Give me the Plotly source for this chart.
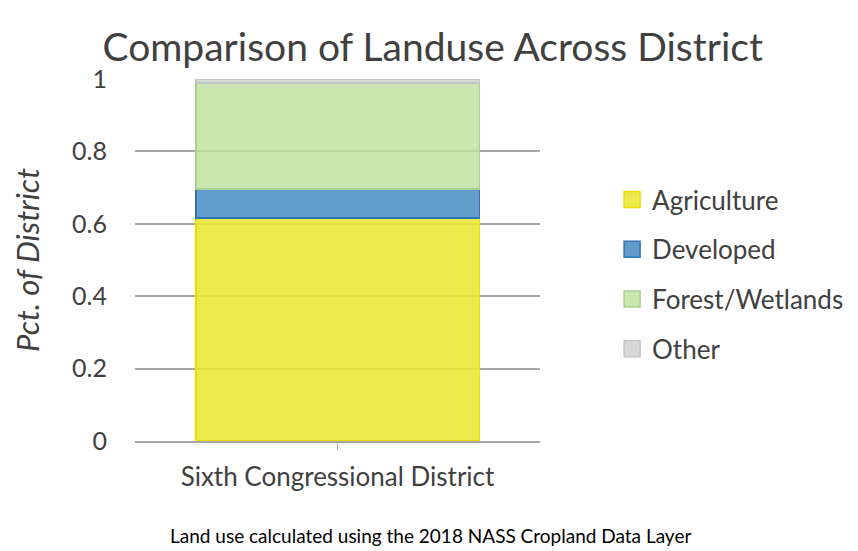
import plotly.graph_objects as go

district = ["Sixth Congressional District"]
classes = ["Agriculture", "Developed", "Forest/Wetlands", "Other"]
agriculture = [0.616]
developed = [0.080]
forest = [0.293]
other = [0.011]

values = [agriculture, developed, forest, other]
fills = ["rgba(234,232,50,0.88)", "rgba(80,145,196,0.90)", "rgba(190,226,160,0.82)", "rgba(212,212,212,0.90)"]
borders = ["#e6df00", "#2e75b6", "#a9d18e", "#c4c4c4"]

fig = go.Figure()
for name, vals, fc, bc in zip(classes, values, fills, borders):
    fig.add_trace(go.Bar(x=district, y=vals, name=name, showlegend=False,
                         marker=dict(color=fc, line=dict(color=bc, width=1.5))))
# legend-only entries so the swatches can be bigger squares
for name, fc, bc in zip(classes, fills, borders):
    fig.add_trace(go.Scatter(x=[None], y=[None], mode="markers", name=name, legendgroup=name,
                             marker=dict(symbol="square", size=16, color=fc,
                                         line=dict(color=bc, width=1.5))))

# page body has an 8px margin, so everything is shifted up/left by 8
fig.update_layout(
    barmode="stack",
    bargap=0.30,
    width=858, height=551,
    margin=dict(l=127, r=326, t=71, b=118),
    paper_bgcolor="white", plot_bgcolor="white",
    font=dict(family="Lato, sans-serif", color="#404040"),
    title=dict(text="Comparison of Landuse Across District", x=0.495, xanchor="center",
               y=0.929, yanchor="middle", font=dict(size=39, color="#404040")),
    legend=dict(x=1.178, y=0.46, xanchor="left", yanchor="middle", traceorder="grouped",
                tracegroupgap=13, itemsizing="trace", font=dict(size=26, color="#404040")),
    showlegend=True,
)
fig.update_yaxes(range=[0, 1.0], dtick=0.2, tickformat="~g", showgrid=True, gridcolor="#a6a6a6",
                 gridwidth=1.5, zeroline=False, tickfont=dict(size=25, color="#404040"),
                 ticks="", ticklabelstandoff=27, layer="above traces", automargin=False,
                 title=dict(text="<i>Pct. of District</i>", standoff=24,
                            font=dict(size=31, color="#404040")))
fig.update_xaxes(showline=True, linecolor="#a6a6a6", linewidth=1.5, ticks="outside",
                 ticklen=7, tickcolor="#b0b0b0", tickfont=dict(size=26, color="#404040"),
                 ticklabelstandoff=5, automargin=False)

fig.add_annotation(text="Land use calculated using the 2018 NASS Cropland Data Layer",
                   xref="paper", yref="paper", x=0.73, y=-0.26, xanchor="center", yanchor="middle",
                   showarrow=False, font=dict(size=19, color="#000000"))

fig.write_html("out.html")
